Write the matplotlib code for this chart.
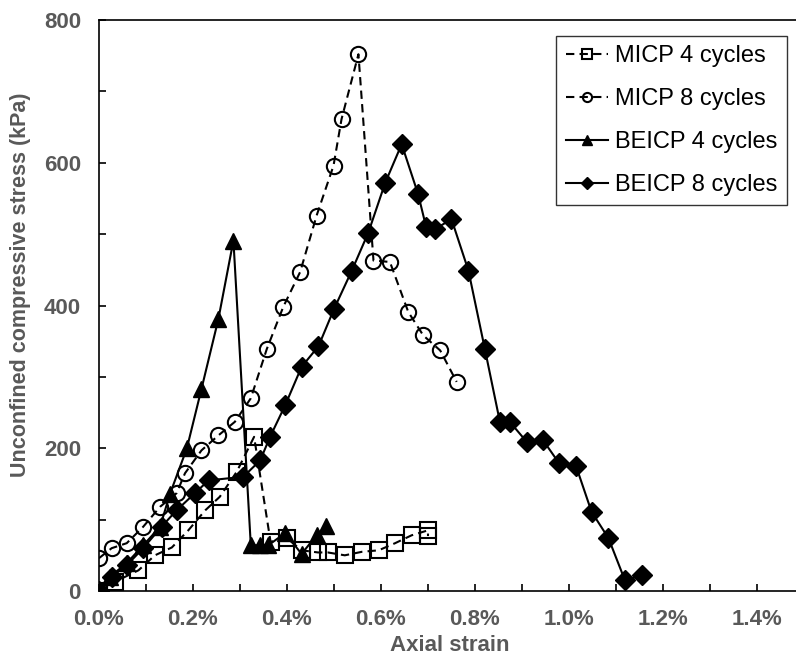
import matplotlib
matplotlib.use("Agg")
import matplotlib.pyplot as plt
from matplotlib.ticker import MultipleLocator, FuncFormatter

plt.rcParams['font.family'] = ['Liberation Sans', 'DejaVu Sans']

# axial strain (%) and UCS (kPa) for each treatment
micp4_strain = [0, 0.034, 0.084, 0.119, 0.155, 0.19, 0.226, 0.257, 0.293, 0.33,
                0.365, 0.40, 0.431, 0.466, 0.487, 0.523, 0.56, 0.595, 0.63, 0.665, 0.70, 0.70]
micp4_stress = [0, 13, 29, 50, 61, 85, 113, 132, 167, 216,
                69, 74, 57, 54, 54, 50, 55, 57, 67, 78, 85, 77]

micp8_strain = [0, 0.027, 0.059, 0.094, 0.13, 0.165, 0.183, 0.218, 0.254, 0.289, 0.323, 0.357,
                0.392, 0.428, 0.463, 0.499, 0.516, 0.552, 0.584, 0.619, 0.658, 0.69, 0.726, 0.761]
micp8_stress = [46, 60, 67, 90, 118, 137, 165, 197, 218, 237, 270, 339,
                398, 447, 526, 596, 661, 752, 463, 461, 391, 358, 337, 293]

beicp4_strain = [0, 0.023, 0.059, 0.094, 0.13, 0.151, 0.187, 0.218, 0.254, 0.286,
                 0.323, 0.343, 0.36, 0.396, 0.431, 0.463, 0.483]
beicp4_stress = [0, 20, 39, 64, 90, 136, 200, 283, 381, 491,
                 64, 64, 64, 81, 52, 78, 91]

beicp8_strain = [0, 0.027, 0.059, 0.094, 0.133, 0.165, 0.204, 0.233, 0.307, 0.343, 0.364, 0.396,
                 0.431, 0.467, 0.50, 0.538, 0.573, 0.609, 0.644, 0.679, 0.696, 0.715, 0.75, 0.786,
                 0.821, 0.853, 0.874, 0.91, 0.944, 0.979, 1.015, 1.048, 1.084, 1.119, 1.155]
beicp8_stress = [0, 20, 36, 60, 90, 113, 137, 155, 160, 183, 216, 260,
                 314, 343, 395, 449, 502, 572, 626, 556, 510, 507, 521, 449,
                 339, 237, 237, 209, 212, 179, 175, 111, 74, 15, 22]

grey = '#595959'
dash = (0, (4, 2.5))

fig = plt.figure(figsize=(7.96, 6.58), dpi=100)
ax = fig.add_axes([99 / 796, 1 - 591 / 658, 1 - 99 / 796, (591 - 20) / 658])

ax.plot(micp4_strain, micp4_stress, color='k', lw=1.5, linestyle=dash, marker='s', ms=11,
        mfc='none', mec='k', mew=1.5, label='MICP 4 cycles')
ax.plot(micp8_strain, micp8_stress, color='k', lw=1.5, linestyle=dash, marker='o', ms=11,
        mfc='none', mec='k', mew=1.5, label='MICP 8 cycles')
ax.plot(beicp4_strain, beicp4_stress, color='k', lw=1.5, marker='^', ms=12,
        mfc='k', mec='k', label='BEICP 4 cycles')
ax.plot(beicp8_strain, beicp8_stress, color='k', lw=1.5, marker='D', ms=10,
        mfc='k', mec='k', label='BEICP 8 cycles')

ax.set_xlim(0, 1.483)
ax.set_ylim(0, 800)
ax.xaxis.set_major_locator(MultipleLocator(0.2))
ax.xaxis.set_minor_locator(MultipleLocator(0.1))
ax.yaxis.set_major_locator(MultipleLocator(200))
ax.yaxis.set_minor_locator(MultipleLocator(100))
ax.xaxis.set_major_formatter(FuncFormatter(lambda v, p: f'{v:.1f}%'))
ax.tick_params(which='both', direction='in', length=5, width=1.2, color='k',
               labelsize=16, labelcolor=grey, pad=13)
ax.tick_params(axis='x', which='both', top=False)
ax.tick_params(axis='y', which='both', right=False)
for lab in ax.get_xticklabels() + ax.get_yticklabels():
    lab.set_fontweight('bold')

ax.spines['right'].set_visible(False)
for s in ['left', 'bottom', 'top']:
    ax.spines[s].set_linewidth(1.2)

ax.set_xlabel('Axial strain', fontsize=16, fontweight='bold', color=grey)
ax.set_ylabel('Unconfined compressive stress (kPa)', fontsize=15.5, fontweight='bold', color=grey)
ax.xaxis.set_label_coords(0.503, -0.077)
ax.yaxis.set_label_coords(-0.098, 0.537)

leg = ax.legend(loc='upper right', bbox_to_anchor=(787 / 796, 1 - 36 / 658),
                bbox_transform=fig.transFigure, borderaxespad=0, fontsize=17, frameon=True,
                fancybox=False, edgecolor='k', handlelength=1.8, markerscale=0.6,
                labelspacing=0.88, borderpad=0.4, handletextpad=0.3)
leg.get_frame().set_linewidth(1.0)

fig.savefig('out.png', dpi=100)
